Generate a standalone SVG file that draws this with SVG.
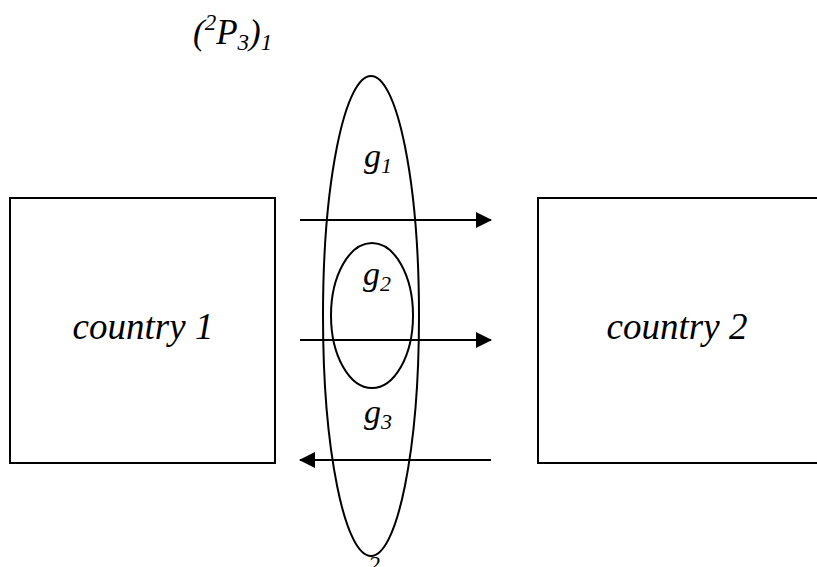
<svg xmlns="http://www.w3.org/2000/svg" width="817" height="567" viewBox="0 0 817 567">
<defs>
<marker id="ah" markerWidth="16" markerHeight="16" refX="15" refY="8" orient="auto" markerUnits="userSpaceOnUse">
<path d="M0,0 L16,8 L0,16 Z" fill="#000"/>
</marker>
</defs>
<g id="title">
<text x="193" y="44" font-family="Liberation Serif" font-style="italic" font-size="35">(<tspan font-size="23" dy="-14">2</tspan><tspan dy="14">P</tspan><tspan font-size="23" dy="6">3</tspan><tspan dy="-6">)</tspan><tspan font-size="23" dy="6">1</tspan></text>
</g>
<g id="country1">
<rect x="10" y="198" width="265" height="265" fill="none" stroke="#000" stroke-width="2"/>
<text x="143" y="339" font-family="Liberation Serif" font-style="italic" font-size="37" text-anchor="middle">country 1</text>
</g>
<g id="country2">
<rect x="538" y="198" width="290" height="265" fill="none" stroke="#000" stroke-width="2"/>
<text x="677" y="339" font-family="Liberation Serif" font-style="italic" font-size="37" text-anchor="middle">country 2</text>
</g>
<g id="g1">
<ellipse cx="371" cy="316" rx="48" ry="240" fill="none" stroke="#000" stroke-width="2"/>
<text x="364" y="167" font-family="Liberation Serif" font-style="italic" font-size="34">g<tspan font-size="22" dy="6">1</tspan></text>
</g>
<g id="g2">
<ellipse cx="372" cy="315.5" rx="41" ry="72.5" fill="none" stroke="#000" stroke-width="2"/>
<text x="363" y="285" font-family="Liberation Serif" font-style="italic" font-size="34">g<tspan font-size="22" dy="6">2</tspan></text>
</g>
<g id="g3">
<text x="364" y="423" font-family="Liberation Serif" font-style="italic" font-size="34">g<tspan font-size="22" dy="6">3</tspan></text>
</g>
<g id="bottom-label">
<text x="368" y="572" font-family="Liberation Serif" font-style="italic" font-size="24">2</text>
</g>
<g id="connectors" stroke="#000" stroke-width="2" fill="none">
<line x1="300" y1="220" x2="491" y2="220" marker-end="url(#ah)"/>
<line x1="300" y1="340" x2="491" y2="340" marker-end="url(#ah)"/>
<line x1="491" y1="460" x2="300" y2="460" marker-end="url(#ah)"/>
</g>
</svg>
